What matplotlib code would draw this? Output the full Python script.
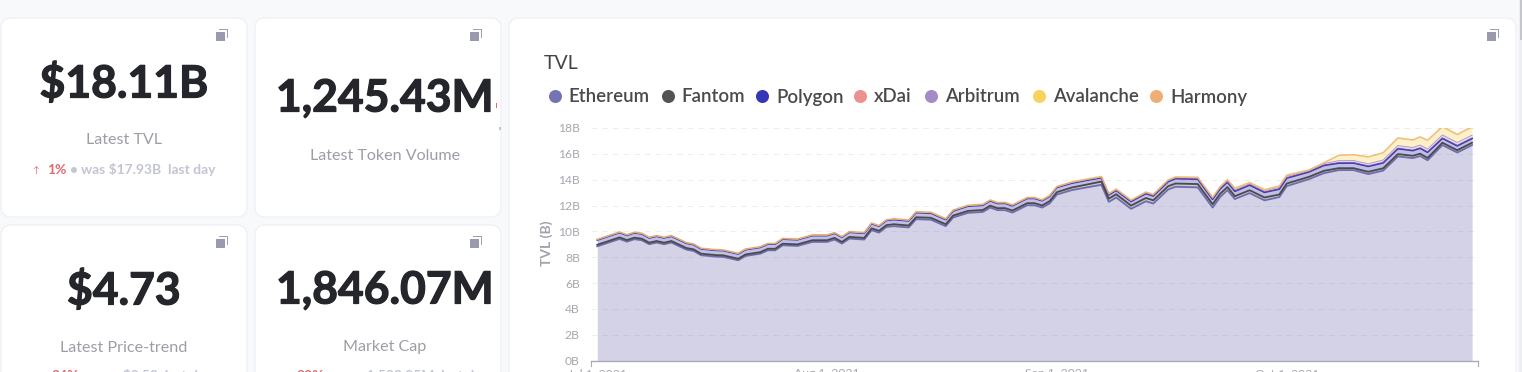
import pandas as pd
import matplotlib
matplotlib.use('Agg')
import matplotlib.pyplot as plt
import matplotlib.patheffects as pe
from matplotlib.patches import FancyBboxPatch, Rectangle

plt.rcParams['font.family'] = ['Lato', 'DejaVu Sans']

# days since Jul 1, 2021
days = [0,3,4,5,6,7,8,9,10,12,
        13,14,16,17,19,20,22,23,24,25,
        27,29,31,32,33,34,36,37,38,39,
        40,42,43,45,47,48,50,52,53,54,
        55,56,58,59,60,61,62,64,66,68,
        69,70,72,74,75,77,78,81,83,84,
        85,86,88,90,92,93,96,98,100,102,
        104,106,108,110,111,112,114,116,118]

ethereum = [8.84,9.41,9.20,9.39,9.31,9.00,9.13,9.00,9.13,8.59,
            8.48,8.15,8.04,8.02,7.76,8.09,8.27,8.53,8.53,8.92,
            8.87,9.18,9.18,9.36,9.05,9.44,9.36,10.09,9.90,10.34,
            10.40,10.30,10.94,10.90,10.40,11.07,11.43,11.50,11.84,11.64,
            11.64,11.45,12.02,12.02,11.84,12.15,12.85,13.19,13.40,13.60,
            12.28,12.62,11.74,12.33,12.15,13.24,13.45,13.40,11.84,12.65,
            13.19,12.50,12.96,12.40,12.65,13.50,14.04,14.50,14.74,14.74,
            14.43,14.70,15.80,15.67,15.83,15.50,16.68,16.10,16.68]
fantom = [.12,.12,.12,.12,.12,.12,.12,.12,.12,.12,
          .12,.12,.12,.12,.12,.12,.12,.12,.12,.12,
          .12,.13,.13,.13,.13,.13,.13,.14,.14,.14,
          .15,.15,.15,.15,.15,.15,.15,.15,.15,.15,
          .16,.16,.16,.16,.16,.18,.18,.20,.22,.25,
          .25,.25,.25,.25,.25,.25,.25,.26,.26,.25,
          .24,.22,.22,.22,.20,.20,.18,.18,.15,.15,
          .18,.18,.18,.18,.18,.18,.18,.18,.18]
polygon = [.37,.37,.37,.37,.37,.37,.37,.37,.37,.37,
           .37,.37,.37,.37,.37,.37,.37,.36,.36,.36,
           .36,.36,.36,.36,.36,.36,.36,.36,.36,.36,
           .36,.36,.36,.36,.36,.36,.37,.37,.37,.37,
           .37,.37,.37,.37,.37,.37,.37,.34,.33,.30,
           .30,.30,.32,.34,.34,.36,.38,.38,.38,.38,
           .38,.38,.40,.40,.42,.42,.38,.42,.39,.40,
           .42,.42,.42,.40,.42,.44,.34,.34,.33]
xdai = [.02,.02,.02,.02,.02,.02,.02,.02,.02,.02,
        .02,.02,.02,.02,.02,.02,.02,.02,.02,.02,
        .02,.02,.02,.02,.02,.02,.02,.02,.02,.02,
        .02,.02,.02,.02,.02,.02,.02,.02,.02,.02,
        .02,.02,.02,.02,.02,.02,.02,.02,.02,.02,
        .02,.02,.02,.02,.02,.02,.02,.02,.02,.02,
        .02,.02,.02,.02,.02,.02,.02,.02,.02,.02,
        .02,.02,.02,.02,.02,.02,.02,.02,.02]
arbitrum = [.01,.01,.01,.01,.01,.01,.01,.01,.01,.01,
            .01,.01,.01,.01,.01,.01,.01,.01,.01,.01,
            .01,.01,.01,.01,.01,.01,.01,.01,.01,.01,
            .02,.02,.02,.02,.02,.02,.02,.02,.02,.02,
            .02,.02,.02,.02,.02,.02,.02,.03,.03,.03,
            .04,.04,.05,.06,.06,.06,.06,.07,.07,.08,
            .09,.10,.10,.10,.12,.12,.08,.12,.17,.17,
            .18,.20,.22,.22,.23,.23,.24,.24,.24]
avalanche = [.00,.00,.00,.00,.00,.00,.00,.00,.00,.00,
             .00,.00,.00,.00,.00,.00,.00,.00,.00,.00,
             .00,.00,.00,.00,.00,.00,.00,.00,.00,.00,
             .00,.00,.00,.00,.00,.00,.00,.00,.00,.00,
             .00,.00,.00,.00,.00,.00,.00,.01,.01,.01,
             .01,.01,.01,.01,.01,.02,.02,.02,.03,.04,
             .05,.09,.05,.05,.07,.06,.02,.03,.39,.43,
             .50,.53,.56,.55,.60,.65,.60,.57,.60]
harmony = [.04,.04,.04,.04,.04,.04,.04,.04,.04,.04,
           .04,.04,.04,.04,.04,.04,.04,.04,.04,.04,
           .04,.04,.04,.04,.04,.04,.04,.04,.04,.04,
           .05,.05,.05,.05,.05,.05,.05,.05,.05,.05,
           .05,.05,.05,.05,.05,.05,.05,.05,.05,.05,
           .05,.05,.05,.05,.05,.05,.05,.05,.05,.05,
           .05,.05,.05,.05,.05,.05,.05,.05,.04,.04,
           .05,.05,.05,.05,.05,.05,.07,.07,.07]

names = ['Ethereum', 'Fantom', 'Polygon', 'xDai', 'Arbitrum', 'Avalanche', 'Harmony']
series = [ethereum, fantom, polygon, xdai, arbitrum, avalanche, harmony]
colors = ['#6e6cae', '#4a4a4a', '#2b2bb0', '#ec8a8a', '#a084c8', '#f7d154', '#eeaa6e']
line_widths = [1.3, 1.3, 1.2, 0.5, 0.7, 0.7, 0.9]
line_alphas = [1, 1, 1, 0.4, 0.8, 0.8, 0.75]

y_ticks = [0, 2, 4, 6, 8, 10, 12, 14, 16, 18]
# the Oct label sits a little right of its date in the reference
x_tick_dates = ['2021-07-01', '2021-08-01', '2021-09-01', '2021-10-02']
x_tick_labels = ['Jul 1, 2021', 'Aug 1, 2021', 'Sep 1, 2021', 'Oct 1, 2021']

W, H = 1522, 372
fig = plt.figure(figsize=(W / 100, H / 100), dpi=100, facecolor='#f8f9fb')

# page layer in pixel coordinates
bg = fig.add_axes([0, 0, 1, 1])
bg.set_xlim(0, W)
bg.set_ylim(H, 0)
bg.axis('off')

def card(x0, y0, x1, y1):
    bg.add_patch(FancyBboxPatch((x0 + 8, y0 + 8), x1 - x0 - 16, y1 - y0 - 16,
                                boxstyle='round,pad=8,rounding_size=10',
                                fc='white', ec='#eef0f4', lw=0.9))

def copy_icon(cx, cy):
    bg.add_patch(Rectangle((cx - 3, cy - 6), 9, 9, fc='#a0a0b2', ec='none'))
    bg.add_patch(Rectangle((cx - 3, cy - 4.6), 7.6, 7.6, fc='white', ec='none'))
    bg.add_patch(Rectangle((cx - 6, cy - 3), 9, 9, fc='#9a9aae', ec='none'))

card(1, 18, 247, 217)
card(255, 18, 501, 217)
card(1, 225, 247, 400)
card(255, 225, 501, 400)
card(509, 18, 1516, 400)

for cx, cy in [(222, 35), (476, 35), (222, 242), (476, 242), (1493, 35)]:
    copy_icon(cx, cy)

bg.add_patch(Rectangle((1519, 0), 3, H, fc='#eceef2', ec='none'))
bg.add_patch(Rectangle((1520, 0), 2, 40, fc='#c4c6cc', ec='none'))

big = '#25262b'
label_c = '#9d9da6'
soft = '#c3c5d2'
red = '#e36a70'

big_text = [(124, 80, '$18.11B'), (385, 95, '1,245.43M'), (124, 287, '$4.73'), (385, 287, '1,846.07M')]
for x, y, s in big_text:
    t = bg.text(x, y, s, ha='center', va='center_baseline', fontsize=32, fontweight='bold', color=big)
    t.set_path_effects([pe.withStroke(linewidth=0.9, foreground=big)])

card_labels = [(124, 138, 'Latest TVL'), (385, 154, 'Latest Token Volume'),
               (124, 346, 'Latest Price-trend'), (385, 346, 'Market Cap')]
for x, y, s in card_labels:
    bg.text(x, y, s, ha='center', va='center_baseline', fontsize=11.6, color=label_c)

def sub(y, xa, xp, p, xd, xw, w):
    bg.text(xa, y, '↑', ha='center', va='center_baseline', fontsize=6.5, color=red)
    bg.text(xp, y, p, ha='left', va='center_baseline', fontsize=10, fontweight='bold', color=red)
    bg.text(xd, y, '•', ha='center', va='center_baseline', fontsize=10, fontweight='bold', color=soft)
    bg.text(xw, y, w, ha='left', va='center_baseline', fontsize=10, fontweight='bold', color=soft)

sub(169, 36, 47, '1%', 74, 81, 'was $17.93B  last day')
sub(375, 40, 52, '34%', 88, 95, 'was $3.52  last day')
sub(375, 285, 296, '20%', 332, 339, 'was 1,533.95M  last day')

# bits of the clipped delta row of the volume card
bg.add_patch(Rectangle((495.5, 103), 1, 5, fc=red, ec='none'))
bg.add_patch(Rectangle((499, 127), 2, 3, fc='#c3c5d2', ec='none'))

bg.text(544, 62, 'TVL', ha='left', va='center_baseline', fontsize=14, color='#444444')
legend_dots = [554.5, 667.5, 762, 860, 931, 1039, 1156]
for x, name, c in zip(legend_dots, names, colors):
    bg.scatter([x], [95.5], s=88, color=c, linewidths=0, alpha=0.95)
    bg.text(x + 14, 95.5, name, ha='left', va='center_baseline', fontsize=13.4,
            fontweight='semibold', color='#4a4a4a')

bg.text(547, 243, 'TVL (B)', rotation=90, ha='center', va='center', fontsize=10,
        fontweight='bold', color='#a2a2ac')

# chart
x0, x1, y0, y1 = 591, 1478, 128, 360.5
ax = fig.add_axes([x0 / W, 1 - y1 / H, (x1 - x0) / W, (y1 - y0) / H])
ax.patch.set_alpha(0)
dates = pd.Timestamp('2021-07-01') + pd.to_timedelta(days, unit='D')

bottom = [0.0] * len(days)
tops = []
for vals, c in zip(series, colors):
    top = [b + v for b, v in zip(bottom, vals)]
    ax.fill_between(dates, bottom, top, color=c, alpha=0.3, lw=0, zorder=2)
    tops.append(top)
    bottom = top
for top, c, lw, a in zip(tops, colors, line_widths, line_alphas):
    ax.plot(dates, top, color=c, lw=lw, alpha=a, zorder=3, solid_joinstyle='round')

ax.set_xlim(pd.Timestamp('2021-07-01') - pd.Timedelta(days=0.85),
            pd.Timestamp('2021-07-01') + pd.Timedelta(days=118.8))
ax.set_ylim(0, 18)
ax.set_yticks(y_ticks)
ax.set_yticklabels([f'{v}B' for v in y_ticks])
ax.set_xticks(pd.to_datetime(x_tick_dates))
ax.set_xticklabels(x_tick_labels)
ax.tick_params(axis='y', length=0, pad=8, labelsize=8.7, labelcolor='#a6a6ae')
ax.tick_params(axis='x', length=0, pad=5.5, labelsize=8.7, labelcolor='#a6a6ae')
ax.grid(axis='y', color='#e9e9ef', lw=0.7, ls=(0, (6, 5)), alpha=0.8, zorder=1)
for s in ['top', 'left', 'right']:
    ax.spines[s].set_visible(False)
ax.spines['bottom'].set_color('#a9a9bb')
ax.spines['bottom'].set_linewidth(1)
ax.spines['bottom'].set_zorder(4)
for xe in [x0, x1]:
    bg.plot([xe, xe], [y1, y1 + 5], color='#a9a9bb', lw=0.8)

fig.savefig('out.png', dpi=100, facecolor=fig.get_facecolor())
